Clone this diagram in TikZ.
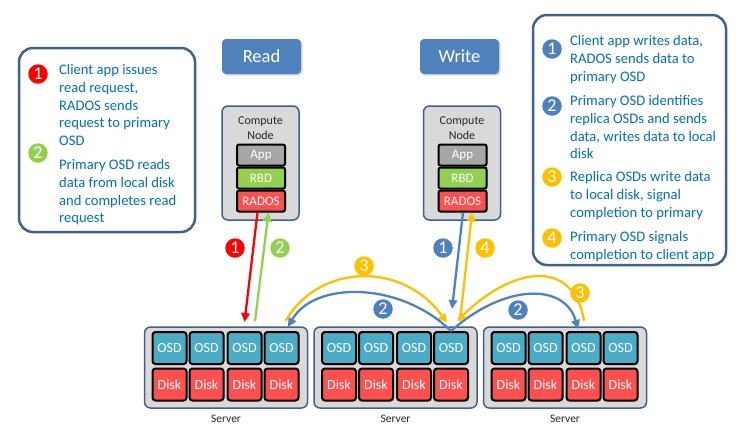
\documentclass[tikz,border=0pt]{standalone}
\usepackage{fontspec}
\setmainfont{Carlito}
\usetikzlibrary{shadows,arrows.meta}
\definecolor{lbord}{HTML}{41618C}
\definecolor{ltext}{HTML}{0070C0}
\definecolor{btn}{HTML}{4F81BD}
\definecolor{lgray}{HTML}{D9D9D9}
\definecolor{osdc}{HTML}{4BACC6}
\definecolor{diskc}{HTML}{FF5050}
\definecolor{appc}{HTML}{A6A6A6}
\definecolor{rbdc}{HTML}{92D050}
\definecolor{cred}{HTML}{FF0000}
\definecolor{cgreen}{HTML}{92D050}
\definecolor{cblue}{HTML}{4F81BD}
\definecolor{cyellow}{HTML}{FFC000}
\begin{document}
\begin{tikzpicture}[x=1pt,y=-1pt,
  legendbox/.style={draw=lbord, line width=2.5pt, rounded corners=14pt, fill=white},
  button/.style={fill=btn, rounded corners=4pt, text=white, font=\fontsize{18.5}{18.5}\selectfont,
    minimum width=79pt, minimum height=35pt, inner sep=0pt,
    drop shadow={opacity=0.3,shadow xshift=1.5pt,shadow yshift=-1.5pt}},
  comp/.style={draw=lbord, line width=1.5pt, fill=lgray, rounded corners=6pt,
    minimum width=77pt, minimum height=114pt, inner sep=0pt},
  ctext/.style={align=center, font=\fontsize{12}{15}\selectfont, text=black!85, inner sep=0pt},
  layer/.style={draw=black, line width=2pt, rounded corners=2pt, minimum width=48pt,
    minimum height=21pt, text=white, font=\fontsize{13}{13}\selectfont, inner sep=0pt,
    fill=#1, drop shadow={opacity=0.4,shadow xshift=1pt,shadow yshift=-1pt}},
  server/.style={draw=lbord, line width=1.5pt, fill=lgray, rounded corners=6pt,
    minimum width=163pt, minimum height=81pt, inner sep=0pt},
  unit/.style={draw=black, line width=2pt, rounded corners=3pt, minimum width=34pt,
    minimum height=32pt, fill=#1, text=white, font=\fontsize{14}{14}\selectfont, inner sep=0pt,
    drop shadow={opacity=0.4,shadow xshift=1pt,shadow yshift=-1pt}},
  slabel/.style={font=\fontsize{11.5}{11.5}\selectfont, text=black!85, inner sep=0pt},
  badge/.style={circle, fill=#1, text=white, inner sep=0pt, minimum size=19.5pt,
    font=\fontsize{18}{18}\selectfont},
  flow/.style={line width=2.3pt, draw=#1, -{Triangle[length=9pt,width=8.5pt]}},
  legtext/.style={text=ltext, font=\fontsize{14.6}{17.7}\selectfont, align=left,
    anchor=north west, inner sep=0pt}
]
\useasboundingbox (0,0) rectangle (746,445);

% ---------- left legend ----------
\draw[legendbox] (19,48) rectangle (195,232);
\node[badge=cred] (lb1) at (38,74) {1};
\node[badge=cgreen] (lb2) at (38,153) {2};
\node[legtext] (lt1) at (59,64.5) {Client app issues\\read request,\\RADOS sends\\request to primary\\OSD};
\node[legtext] (lt2) at (59,159.5) {Primary OSD reads\\data from local disk\\and completes read\\request};

% ---------- right legend ----------
\draw[legendbox] (533,15) rectangle (726,265);
\node[badge=cblue] (rb1) at (552,49) {1};
\node[badge=cblue] (rb2) at (552,106) {2};
\node[badge=cyellow] (rb3) at (552,177) {3};
\node[badge=cyellow] (rb4) at (552,238) {4};
\node[legtext] (rt1) at (570,35.5) {Client app writes data,\\RADOS sends data to\\primary OSD};
\node[legtext] (rt2) at (570,95.5) {Primary OSD identifies\\replica OSDs and sends\\data, writes data to local\\disk};
\node[legtext] (rt3) at (570,171.5) {Replica OSDs write data\\to local disk, signal\\completion to primary};
\node[legtext] (rt4) at (570,231.5) {Primary OSD signals\\completion to client app};

% ---------- buttons ----------
\node[button] (read) at (261.5,56.5) {Read};
\node[button] (write) at (459.5,56.5) {Write};

% ---------- compute nodes ----------
\node[comp] (rcomp) at (260.5,163) {};
\node[ctext] (rct) at (260.5,128.5) {Compute\\Node};
\node[layer=appc] (rapp) at (261,155) {App};
\node[layer=rbdc] (rrbd) at (261,178) {RBD};
\node[layer=diskc] (rrados) at (261,201) {RADOS};

\node[comp] (wcomp) at (462,163) {};
\node[ctext] (wct) at (462,128.5) {Compute\\Node};
\node[layer=appc] (wapp) at (462.5,155) {App};
\node[layer=rbdc] (wrbd) at (462.5,178) {RBD};
\node[layer=diskc] (wrados) at (462.5,201) {RADOS};

% ---------- servers ----------
\foreach \n/\cx in {1/226, 2/395.5, 3/565} {
  \node[server] (srv\n) at (\cx,367.5) {};
  \node[slabel] (srvl\n) at (\cx,419) {Server};
  \foreach \i/\dx in {1/-56.5, 2/-19.5, 3/18.5, 4/55.5} {
    \node[unit=osdc] (o\n\i) at (\cx+\dx,348) {OSD};
    \node[unit=diskc] (d\n\i) at (\cx+\dx,384.5) {Disk};
  }
}

% ---------- read arrows ----------
\draw[flow=cred] ([xshift=-3.5pt]rrados.south) -- ([yshift=9pt]o13.north);
\draw[flow=cgreen] ([xshift=10.5pt,yshift=10pt]o13.north) -- ([xshift=7.5pt]rrados.south);

% ---------- write arrows ----------
\draw[flow=cblue] ([xshift=0.5pt]wrados.south) -- ([xshift=1pt,yshift=22pt]o24.north);
\draw[flow=cyellow] ([xshift=9pt,yshift=10pt]o24.north) -- ([xshift=9.5pt]wrados.south);

\draw[flow=cblue] (o24.north) .. controls (400,281) and (314,281) .. ([xshift=6.5pt,yshift=4pt]o14.north);
\draw[flow=cblue] (o24.north) .. controls (505,283) and (565,283) .. ([xshift=-5.5pt,yshift=2pt]o33.north);
\draw[flow=cyellow] ([xshift=4pt,yshift=10pt]o14.north) .. controls (320,262) and (404,262) .. ([xshift=-4pt,yshift=8pt]o24.north);
\draw[flow=cyellow] ([xshift=0.5pt,yshift=10pt]o33.north) .. controls (575,262) and (518,262) .. ([xshift=6pt,yshift=10pt]o24.north);

% ---------- arrow labels ----------
\node[badge=cred] (ar1) at (235,248) {1};
\node[badge=cgreen] (ag2) at (280,248) {2};
\node[badge=cblue] (ab1) at (443,248) {1};
\node[badge=cyellow] (ay4) at (485,248) {4};
\node[badge=cyellow] (ay3a) at (364,266) {3};
\node[badge=cblue] (ab2a) at (383,309) {2};
\node[badge=cblue] (ab2b) at (518,310) {2};
\node[badge=cyellow] (ay3b) at (580,293) {3};
\end{tikzpicture}
\end{document}
